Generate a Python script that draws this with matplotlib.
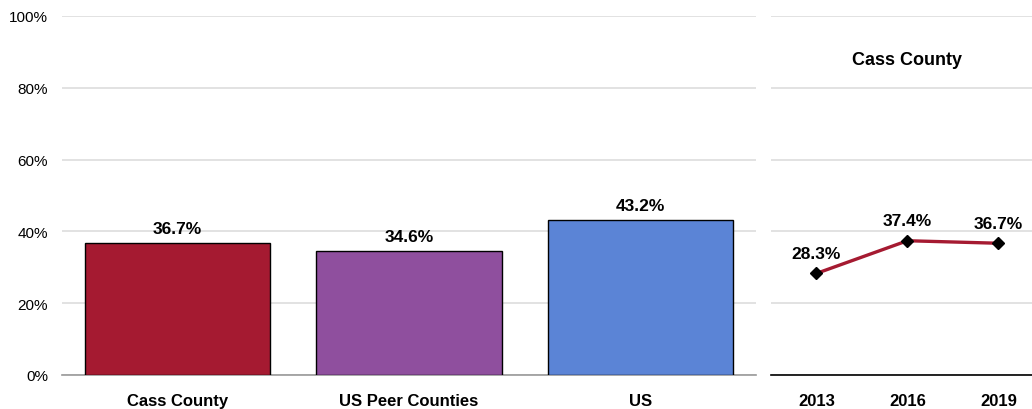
import matplotlib
matplotlib.use("Agg")
import matplotlib.pyplot as plt
from matplotlib.ticker import PercentFormatter

# bar panel
groups = ["Cass County", "US Peer Counties", "US"]
group_vals = [36.7, 34.6, 43.2]
group_colors = ["#A51A31", "#8F4F9E", "#5B84D6"]

# trend panel
years = ["2013", "2016", "2019"]
trend_vals = [28.3, 37.4, 36.7]
trend_title = "Cass County"

plt.rcParams["font.family"] = ["Liberation Sans", "DejaVu Sans"]

W, H = 1032, 410
fig = plt.figure(figsize=(W / 100, H / 100), dpi=100)
y0, y1 = 376, 17
ax = fig.add_axes([62 / W, 1 - y0 / H, (756 - 62) / W, (y0 - y1) / H])
ax2 = fig.add_axes([771 / W, 1 - y0 / H, (1032 - 771) / W, (y0 - y1) / H])

# left: bars
x = range(len(groups))
ax.bar(x, group_vals, width=0.8, color=group_colors, edgecolor="black", linewidth=1, zorder=3)
for i, v in zip(x, group_vals):
    ax.annotate(f"{v:.1f}%", (i, v), xytext=(0, 5), textcoords="offset points",
                ha="center", va="bottom", fontsize=12.5, fontweight="bold")
ax.set_xlim(-0.5, 2.5)
ax.set_ylim(0, 100)
ax.set_yticks(range(0, 101, 20))
ax.yaxis.set_major_formatter(PercentFormatter(decimals=0))
ax.set_xticks(list(x))
ax.set_xticklabels(groups, fontsize=12, fontweight="bold")
ax.tick_params(axis="x", length=0, pad=13)
ax.tick_params(axis="y", length=0, pad=10, labelsize=11)
ax.grid(axis="y", color="#DDDDDD", linewidth=1.2, zorder=0)
for s in ["top", "right", "left"]:
    ax.spines[s].set_visible(False)
ax.spines["bottom"].set_color("#999999")
ax.spines["bottom"].set_linewidth(1.2)

# right: trend line
xt = range(len(years))
ax2.plot(xt, trend_vals, color="#A51A31", linewidth=2.4, marker="D", markersize=6,
         markerfacecolor="black", markeredgecolor="black", zorder=3)
for i, v in zip(xt, trend_vals):
    ax2.annotate(f"{v:.1f}%", (i, v), xytext=(0, 9), textcoords="offset points",
                 ha="center", va="bottom", fontsize=12.5, fontweight="bold")
ax2.text(1, 88, trend_title, ha="center", va="center", fontsize=13, fontweight="bold")
ax2.set_xlim(-0.5, 2.37)
ax2.set_ylim(0, 100)
ax2.set_yticks(range(0, 101, 20))
ax2.set_yticklabels([])
ax2.set_xticks(list(xt))
ax2.set_xticklabels(years, fontsize=12, fontweight="bold")
ax2.tick_params(axis="x", length=0, pad=13)
ax2.tick_params(axis="y", length=0)
ax2.grid(axis="y", color="#DDDDDD", linewidth=1.2, zorder=0)
for s in ["top", "right", "left"]:
    ax2.spines[s].set_visible(False)
ax2.spines["bottom"].set_color("black")
ax2.spines["bottom"].set_linewidth(1.2)

fig.savefig("out.png", dpi=100)
